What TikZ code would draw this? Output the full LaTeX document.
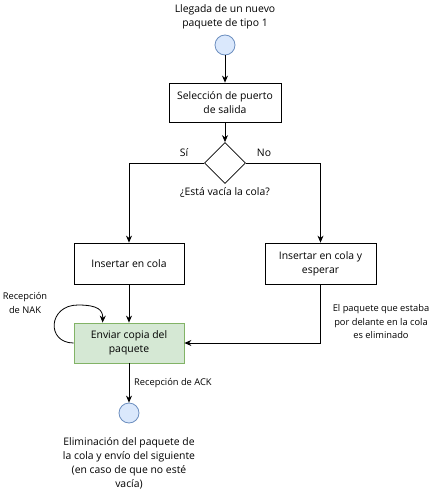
\documentclass[tikz,border=0pt]{standalone}
\usepackage{fontspec}
\setmainfont{Open Sans}
\usetikzlibrary{arrows.meta,shapes.geometric,calc}
\definecolor{bluefill}{HTML}{DAE8FC}
\definecolor{bluestroke}{HTML}{6C8EBF}
\definecolor{greenfill}{HTML}{D5E8D4}
\definecolor{greenstroke}{HTML}{82B366}
\begin{document}
\begin{tikzpicture}[x=1pt,y=-1pt,
  every node/.style={font=\fontsize{10.4}{14}\selectfont, align=center, inner sep=0pt},
  proc/.style={draw=black, line width=0.8pt, minimum width=111pt, minimum height=40pt},
  startend/.style={circle, draw=bluestroke, fill=bluefill, line width=0.8pt, minimum size=20pt},
  decision/.style={diamond, draw=black, line width=0.8pt, minimum width=41pt, minimum height=41pt, aspect=1},
  lbl/.style={font=\fontsize{9.3}{13.5}\selectfont},
  arr/.style={draw=black, line width=0.8pt, -{Stealth[length=7pt,width=6pt]}},
  ln/.style={draw=black, line width=0.8pt}]
\useasboundingbox (0,0) rectangle (436,492);

\node (toptxt) at (225,17) {Llegada de un nuevo\\paquete de tipo 1};
\node[startend] (c1) at (225,45) {};
\node[proc, minimum width=112pt, minimum height=39pt] (sel) at (225,102.5) {Selección de puerto\\de salida};
\node[decision] (dec) at (225,163) {};
\node (q) at (225,193) {¿Está vacía la cola?};
\node (si) at (184,153) {Sí};
\node (no) at (264,153) {No};
\node[proc, minimum width=110pt, minimum height=41pt] (ins) at (129,263.5) {Insertar en cola};
\node[proc, minimum width=111pt, minimum height=41pt] (insw) at (320.5,263.5) {Insertar en cola y\\esperar};
\node[proc, draw=greenstroke, fill=greenfill, minimum width=110pt, minimum height=40pt] (env) at (129,343) {Enviar copia del\\paquete};
\node[startend] (c2) at (129,413) {};
\node[lbl] (nak) at (25,303) {Recepción\\de NAK};
\node[lbl] (elim) at (381,322) {El paquete que estaba\\por delante en la cola\\es eliminado};
\node[lbl, anchor=west] (ack) at (134,383) {Recepción de ACK};
\node (fin) at (129,463) {Eliminación del paquete de\\la cola y envío del siguiente\\(en caso de que no esté\\vacía)};

\draw[arr] (c1) -- (sel);
\draw[arr] (sel) -- (dec);
\draw[arr] (dec.west) -| (ins.north);
\draw[arr] (dec.east) -| (insw.north);
\draw[arr] (ins) -- (env);
\draw[arr] (insw.south) |- (env.east);
\draw[arr] (env) -- (c2);
\coordinate (loopend) at ([xshift=29pt]env.north west);
\draw[arr] (env.west) .. controls (46,343) and (48,305) .. (78,305) .. controls (98,305) and (103,310) .. (loopend);
\end{tikzpicture}
\end{document}
